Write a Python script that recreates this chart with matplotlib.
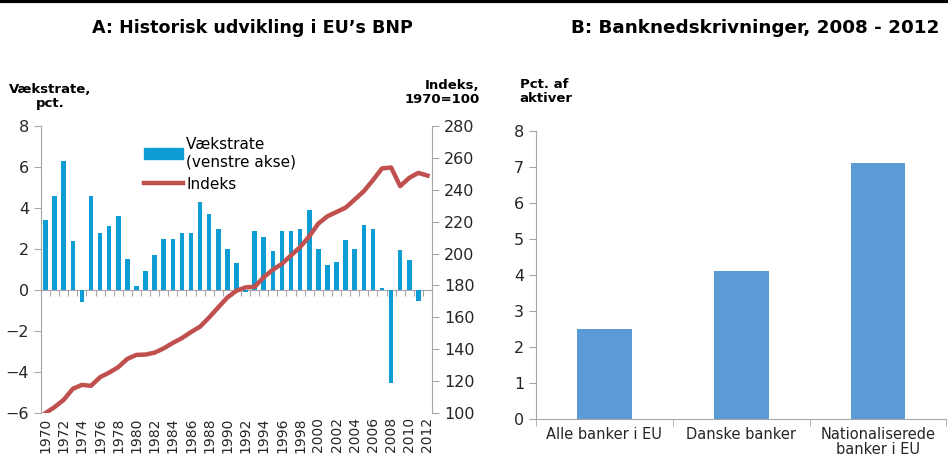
import numpy as np
import matplotlib.pyplot as plt
from matplotlib.lines import Line2D
from matplotlib.patches import Patch

# Panel A: EU GDP growth (left axis) and index 1970=100 (right axis)
years = np.arange(1970, 2013)
growth = [3.4, 4.6, 6.3, 2.4, -0.6, 4.6, 2.8, 3.1, 3.6, 1.5,
          0.2, 0.95, 1.7, 2.5, 2.5, 2.8, 2.8, 4.3, 3.7, 3.0,
          2.0, 1.3, -0.1, 2.9, 2.6, 1.9, 2.9, 2.9, 3.0, 3.9,
          2.0, 1.2, 1.35, 2.45, 2.0, 3.15, 3.0, 0.1, -4.55, 1.95,
          1.45, -0.55, 0.0]
index = [100, 103.8, 108.3, 115.2, 117.7, 117.1, 122.5, 125.4, 128.8, 134.0,
         136.5, 136.7, 137.9, 140.6, 144.0, 147.0, 150.8, 154.2, 160.0, 166.3,
         172.5, 176.7, 178.8, 179.2, 185.2, 189.9, 193.6, 198.9, 204.1, 210.8,
         218.8, 223.4, 226.1, 228.8, 233.9, 239.1, 246.0, 253.4, 254.0, 242.3,
         247.5, 250.6, 248.9]

# Panel B: bank write-downs 2008-2012, pct. of assets
bank_groups = ['Alle banker i EU', 'Danske banker', 'Nationaliserede\nbanker i EU']
writedowns = [2.5, 4.1, 7.1]

bar_blue = '#0E9CD4'
line_red = '#C0504D'
bar_b = '#5B9BD5'
grey = '#A6A6A6'
txt = '#262626'

fig = plt.figure(figsize=(9.48, 4.59), dpi=100)

# ---- panel A ----
ax = fig.add_axes([0.0432, 0.100, 0.4125, 0.6255])
ax.bar(years, growth, width=0.5, color=bar_blue, zorder=2)
ax.set_ylim(-6, 8)
ax.set_yticks(np.arange(-6, 9, 2))
ax.set_xlim(1969.5, 2012.5)
ax.set_xticks(years[::2])
ax.set_xticklabels([str(y) for y in years[::2]], rotation=90, fontsize=10, color=txt)
ax.tick_params(axis='x', length=0, pad=3)
ax.tick_params(axis='y', colors=grey, labelcolor=txt, labelsize=11.5, length=5)
for s in ['top', 'right', 'bottom']:
    ax.spines[s].set_visible(False)
ax.spines['left'].set_color(grey)

# zero line with tick marks between years
sec = ax.secondary_xaxis(6 / 14)
sec.set_xticks(np.arange(1969.5, 2013, 1))
sec.set_xticklabels([])
sec.tick_params(colors=grey, length=4, direction='out')
sec.spines['bottom'].set_color(grey)

ax2 = ax.twinx()
ax2.plot(years, index, color=line_red, lw=3.2, zorder=3)
ax2.set_ylim(100, 280)
ax2.set_yticks(np.arange(100, 281, 20))
ax2.tick_params(axis='y', colors=grey, labelcolor=txt, labelsize=11.5, length=5)
for s in ['top', 'left', 'bottom']:
    ax2.spines[s].set_visible(False)
ax2.spines['right'].set_color(grey)

handles = [Patch(color=bar_blue), Line2D([], [], color=line_red, lw=3.2)]
ax2.legend(handles, ['Vækstrate\n(venstre akse)', 'Indeks'], loc='upper left',
           bbox_to_anchor=(0.235, 1.0), frameon=False, fontsize=11,
           handlelength=2.6, handletextpad=0.2, labelspacing=0.5,
           borderaxespad=0.3)

# ---- panel B ----
bx = fig.add_axes([0.5654, 0.0871, 0.433, 0.6275])
xb = np.arange(len(bank_groups))
bx.bar(xb, writedowns, width=0.4, color=bar_b, zorder=2)
bx.set_ylim(0, 8)
bx.set_xlim(-0.5, 2.5)
bx.set_yticks(np.arange(0, 9, 1))
bx.set_xticks(xb)
bx.set_xticklabels(bank_groups, fontsize=10.5, color=txt, linespacing=1.0)
bx.set_xticks(np.arange(-0.5, 2.6, 1), minor=True)
bx.tick_params(axis='x', which='major', length=0, pad=6)
bx.tick_params(axis='x', which='minor', length=5, colors=grey)
bx.tick_params(axis='y', colors=grey, labelcolor=txt, labelsize=11.5, length=5)
for s in ['top', 'right']:
    bx.spines[s].set_visible(False)
for s in ['left', 'bottom']:
    bx.spines[s].set_color(grey)

# ---- titles and axis captions ----
fig.add_artist(Line2D([0, 1], [0.997, 0.997], color='black', lw=3))
fig.text(0.266, 0.94, 'A: Historisk udvikling i EU\u2019s BNP', ha='center', va='center',
         fontsize=12.6, fontweight='bold')
fig.text(0.797, 0.94, 'B: Banknedskrivninger, 2008 - 2012', ha='center', va='center',
         fontsize=13.2, fontweight='bold')
fig.text(0.053, 0.79, 'Vækstrate,\npct.', ha='center', va='center', fontsize=9.5,
         fontweight='bold', linespacing=1.1)
fig.text(0.466, 0.798, 'Indeks,\n1970=100', ha='center', va='center', fontsize=9.5,
         fontweight='bold', linespacing=1.1, multialignment='right')
fig.text(0.576, 0.80, 'Pct. af\naktiver', ha='center', va='center', fontsize=9.5,
         fontweight='bold', linespacing=1.1, multialignment='left')

fig.savefig('out.png', dpi=100)
